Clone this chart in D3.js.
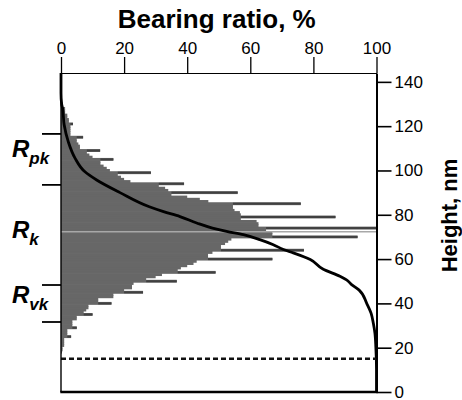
<!DOCTYPE html>
<html>
<head>
<meta charset="utf-8">
<script src="https://cdn.jsdelivr.net/npm/d3@7"></script>
<style>
  body { margin: 0; background: #fff; }
  svg text { font-family: "Liberation Sans", Arial, sans-serif; }
</style>
</head>
<body>
<div class="chart"></div>
<script>
// height distribution: bin centre heights (nm) and bar length (% of max)
const binHeights = [
  18, 19, 20, 21, 22, 23, 24, 25, 26, 27, 28, 29, 30, 31, 32, 33, 34, 35, 36, 37,
  38, 39, 40, 41, 42, 43, 44, 45, 46, 47, 48, 49, 50, 51, 52, 53, 54, 55, 56, 57,
  58, 59, 60, 61, 62, 63, 64, 65, 66, 67, 68, 69, 70, 71, 72, 73, 74, 75, 76, 77,
  78, 79, 80, 81, 82, 83, 84, 85, 86, 87, 88, 89, 90, 91, 92, 93, 94, 95, 96, 97,
  98, 99, 100, 101, 102, 103, 104, 105, 106, 107, 108, 109, 110, 111, 112, 113, 114, 115, 116, 117,
  118, 119, 120, 121, 122, 123, 124, 125, 126, 127, 128, 129, 130, 131, 132
];
const binValues = [
  0.3, 0.5, 0.5, 1, 1, 1, 1, 3.2, 2, 2, 2, 5, 3.6, 3.6, 3.6, 5, 5, 10, 7.2, 8,
  8.7, 8.7, 16, 11.8, 11.8, 16.6, 16.6, 26, 20, 22.5, 22.5, 23, 36.7, 27, 30, 32, 49, 37, 38, 40,
  42, 43, 67, 46.6, 46.6, 48, 77, 50.7, 50.7, 52, 53, 54, 94, 67, 67, 65, 100, 62.6, 62.6, 62,
  57, 87, 57, 56.7, 55, 54.5, 54.5, 76, 46.7, 44, 40, 35, 56, 34, 33, 31, 39, 22, 20, 19,
  18, 28.5, 15.5, 14.5, 13.5, 12.5, 12.5, 16.6, 10, 9, 8.2, 12.4, 6, 6, 5.5, 5, 5, 7, 3, 3,
  3, 3, 3, 3.8, 2.5, 2.5, 2, 2, 1.3, 1.3, 1.3, 0.6, 0.6, 0.3, 0.3
];

// bearing (Abbott-Firestone) curve
const curveRatio = [0, 0, 0.2, 0.5, 1, 2.3, 4.4, 7.6, 11.3, 18.7, 28, 32.5, 37.7, 43, 48, 52.5, 57.8, 63,
  67.3, 70.5, 73.6, 79, 83, 88.4, 90.5, 92.1, 94.5, 96.9, 98.3, 99, 99.5, 99.8, 100, 100];
const curveHeight = [144, 135, 130, 128, 120.6, 113, 105.7, 99.4, 95.7, 90, 83.6, 81.4, 79.2, 76.3, 74, 72.5, 71, 68.8,
  66.5, 64.3, 62.8, 59.8, 55.5, 52.2, 50.6, 48.5, 46, 40, 35.5, 31, 26.6, 20, 10, 0];

// Rpk / Rk / Rvk
const boundaryHeights = [116.5, 93.5, 48.3, 31.6];
const paramNames = [['R', 'pk'], ['R', 'k'], ['R', 'vk']];
const paramHeights = [106.1, 69.5, 40.2];
const coreLine = 72.3;
const cutLine = 15;

const ratioTicks = [0, 20, 40, 60, 80, 100];
const heightTicks = [0, 20, 40, 60, 80, 100, 120, 140];

let margin = {t: 73, l: 61, b: 8, r: 85.5},
    W = 462, H = 400,
    width = W - margin.l - margin.r,
    height = H - margin.t - margin.b;

let svg = d3.select('.chart')
            .append('svg')
            .attr('width', W)
            .attr('height', H)
            .append('g')
            .attr('transform', `translate(${margin.l}, ${margin.t})`);

let x = d3.scaleLinear().domain([0, 100]).range([0, width]),
    y = d3.scaleLinear().domain([0, 144]).range([height, 0]);

// histogram bars (a little overlap so no seams show between rows)
let bins = binHeights.map((h, i) => ({h: h, v: binValues[i],
  nb: Math.max(i > 0 ? binValues[i - 1] : 0, i < binValues.length - 1 ? binValues[i + 1] : 0)}));

svg.append('g').selectAll('rect')
    .data(bins)
    .enter()
    .append('rect')
    .attr('x', x(0))
    .attr('y', d => y(d.h + 0.5) - 0.35)
    .attr('width', d => x(d.v) - x(0))
    .attr('height', d => y(d.h - 0.5) - y(d.h + 0.5) + 0.7)
    .attr('fill', '#676767');

// the single-bin spikes look darker in the original
svg.append('g').selectAll('rect')
    .data(bins.filter(d => d.v > d.nb))
    .enter()
    .append('rect')
    .attr('x', d => x(d.nb))
    .attr('y', d => y(d.h + 0.45))
    .attr('width', d => x(d.v) - x(d.nb))
    .attr('height', d => y(d.h - 0.45) - y(d.h + 0.45))
    .attr('fill', '#404040');

// Rk line
svg.append('line')
    .attr('x1', x(0)).attr('x2', x(100))
    .attr('y1', y(coreLine)).attr('y2', y(coreLine))
    .attr('stroke', '#a8a8a8')
    .attr('stroke-width', 1.5);

// bearing curve
let line = d3.line()
    .x((d, i) => x(curveRatio[i]))
    .y(d => y(d))
    .curve(d3.curveMonotoneY);

svg.append('path')
    .datum(curveHeight)
    .attr('d', line)
    .attr('fill', 'none')
    .attr('stroke', '#000')
    .attr('stroke-width', 2.8)
    .attr('stroke-linejoin', 'round');

// dashed cut-off line
svg.append('line')
    .attr('x1', x(0)).attr('x2', x(100))
    .attr('y1', y(cutLine)).attr('y2', y(cutLine))
    .attr('stroke', '#111')
    .attr('stroke-width', 2.5)
    .attr('stroke-dasharray', '5,3');

// top axis
let topAxis = svg.append('g')
    .call(d3.axisTop(x).tickValues(ratioTicks).tickSize(16).tickSizeOuter(0).tickPadding(3));
topAxis.select('.domain').attr('stroke-width', 1);
topAxis.selectAll('.tick line').attr('stroke-width', 1.3);
topAxis.selectAll('text').attr('font-size', 17).attr('fill', '#000');

// right axis
let rightAxis = svg.append('g')
    .attr('transform', `translate(${width}, 0)`)
    .call(d3.axisRight(y).tickValues(heightTicks).tickSize(15).tickSizeOuter(0).tickPadding(3));
rightAxis.select('.domain').attr('stroke-width', 2);
rightAxis.selectAll('.tick line').attr('stroke-width', 1.6);
rightAxis.selectAll('text').attr('font-size', 17).attr('fill', '#000');

// left and bottom frame
svg.append('line')
    .attr('x1', x(0)).attr('x2', x(0))
    .attr('y1', y(144)).attr('y2', y(0))
    .attr('stroke', '#000').attr('stroke-width', 1.4);
svg.append('line')
    .attr('x1', x(0) - 0.7).attr('x2', x(100) + 1)
    .attr('y1', y(0)).attr('y2', y(0))
    .attr('stroke', '#000').attr('stroke-width', 2.7);

// left boundary ticks
svg.append('g').selectAll('line')
    .data(boundaryHeights)
    .enter()
    .append('line')
    .attr('x1', -19).attr('x2', 0)
    .attr('y1', d => y(d)).attr('y2', d => y(d))
    .attr('stroke', '#000')
    .attr('stroke-width', 1.8);

// parameter labels
let lbl = svg.append('g').selectAll('text')
    .data(paramNames)
    .enter()
    .append('text')
    .attr('x', -49)
    .attr('y', (d, i) => y(paramHeights[i]))
    .attr('font-size', 24)
    .attr('font-weight', 'bold')
    .attr('font-style', 'italic');
lbl.append('tspan').text(d => d[0]);
lbl.append('tspan')
    .attr('font-size', 17)
    .attr('dy', 7)
    .text(d => d[1]);

// titles
svg.append('text')
    .attr('x', width / 2 - 2)
    .attr('y', -45)
    .attr('text-anchor', 'middle')
    .attr('font-size', 26)
    .attr('font-weight', 'bold')
    .text('Bearing ratio, %');

svg.append('text')
    .attr('transform', `translate(${width + 80}, ${height / 2 - 17}) rotate(-90)`)
    .attr('text-anchor', 'middle')
    .attr('font-size', 22)
    .attr('font-weight', 'bold')
    .text('Height, nm');
</script>
</body>
</html>
